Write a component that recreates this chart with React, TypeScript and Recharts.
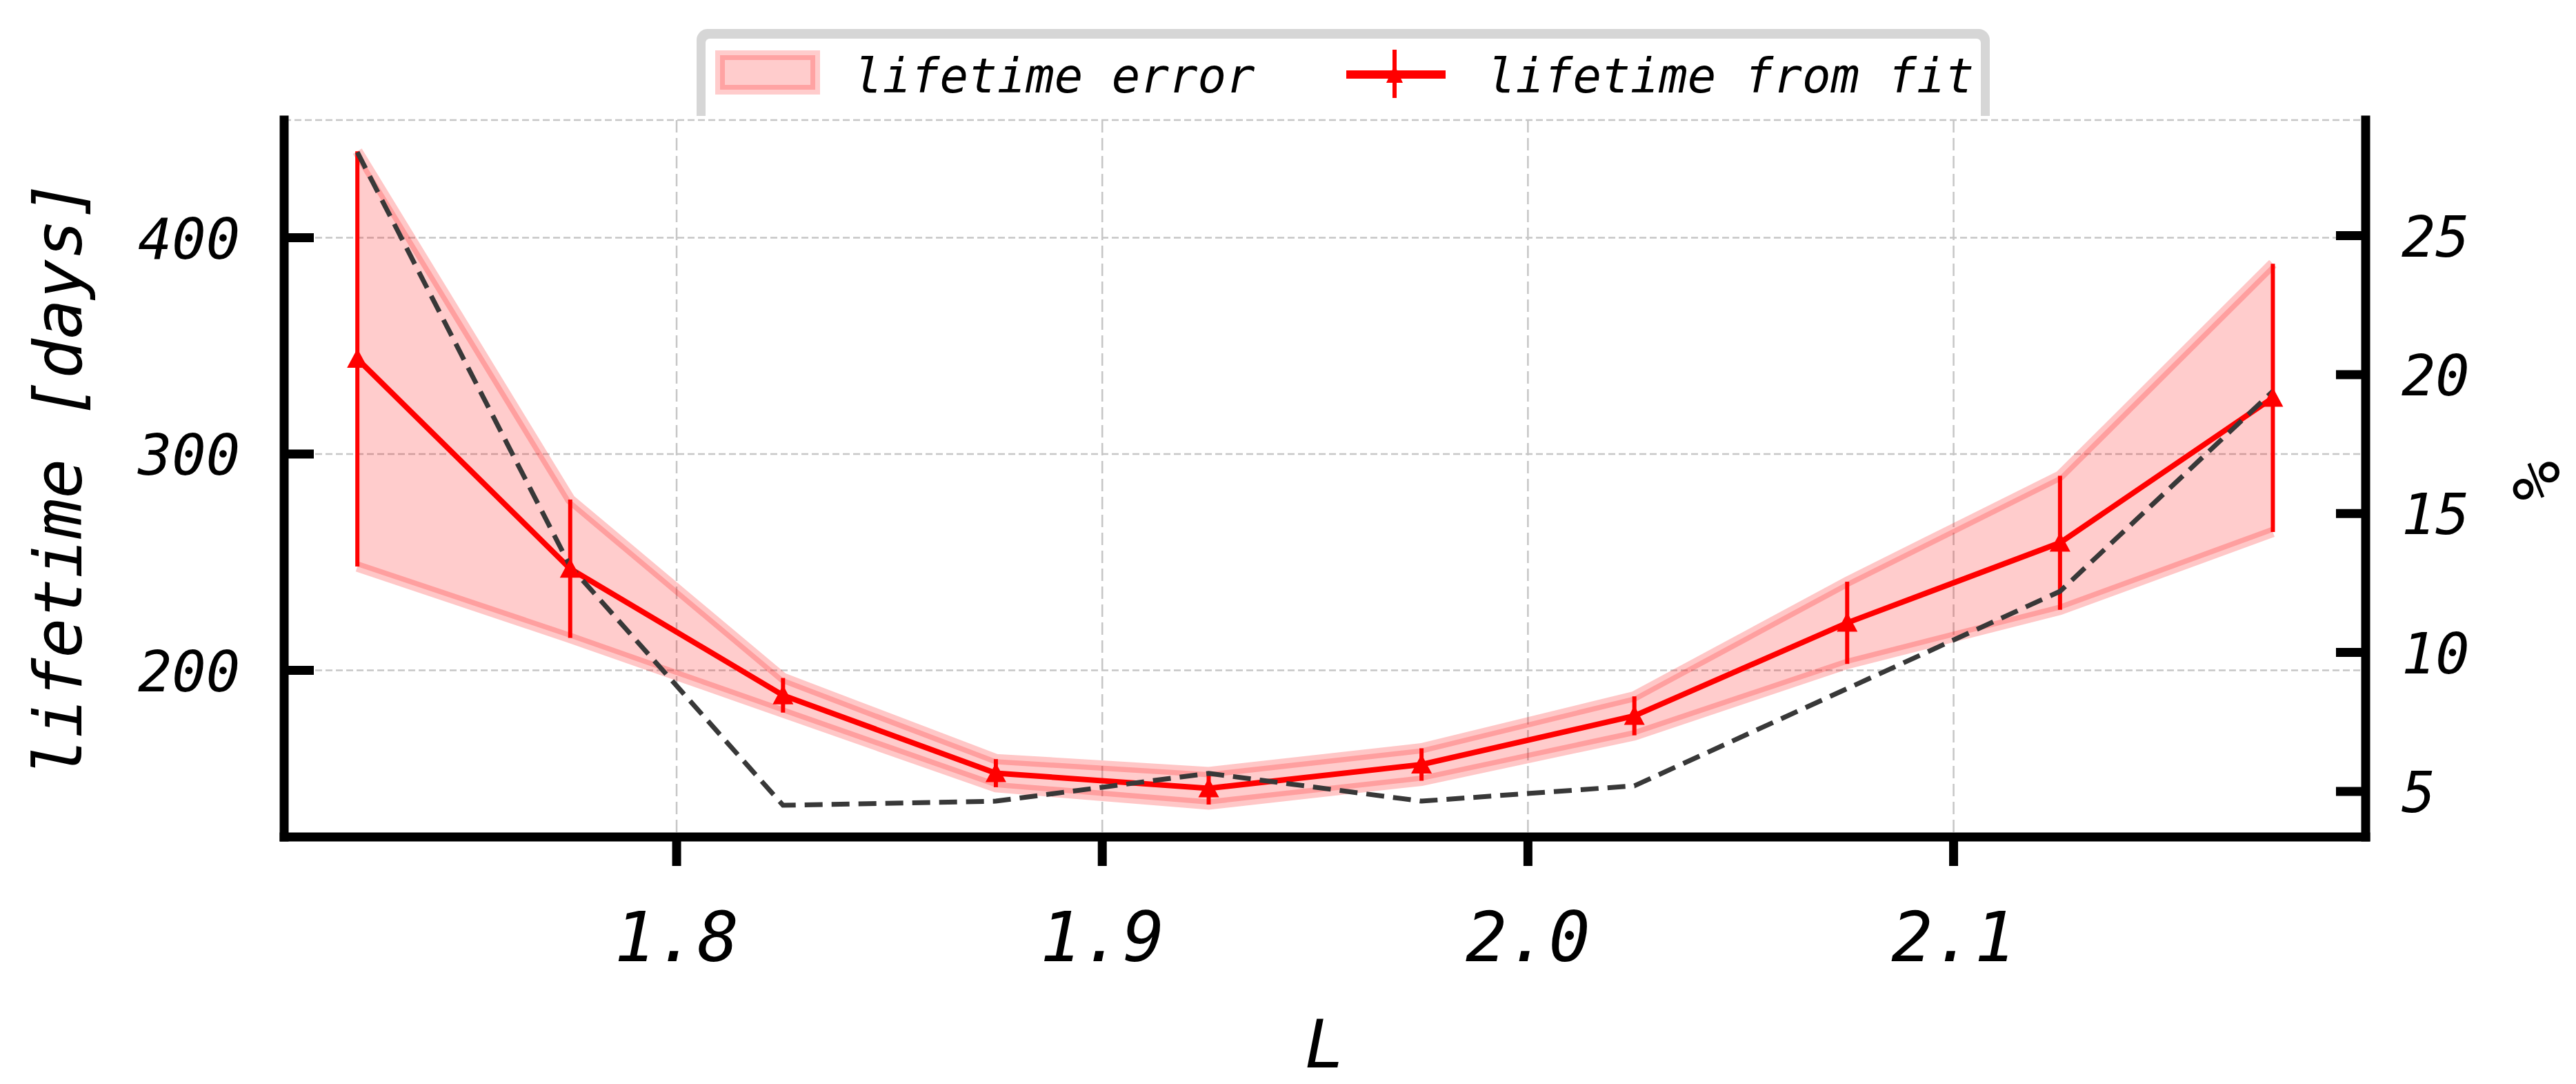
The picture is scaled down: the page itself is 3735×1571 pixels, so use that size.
import React from 'react';
import { ComposedChart, Area, Line, XAxis, YAxis, CartesianGrid, ErrorBar, Legend } from 'recharts';

// ---- data ----
const L_VALUES = [1.725, 1.775, 1.825, 1.875, 1.925, 1.975, 2.025, 2.075, 2.125, 2.175];
const LIFETIME = [344, 247, 188.5, 152.5, 145.5, 156.5, 179, 222, 259, 326];
const LIFETIME_ERR = [96, 32, 8, 6.5, 7.5, 7.5, 9, 19, 31, 62];
const REL_ERR_PCT = [28.0, 13.1, 4.5, 4.65, 5.65, 4.65, 5.2, 8.7, 12.2, 19.4];

const X_TICKS = [1.8, 1.9, 2.0, 2.1];
const LEFT_TICKS = [200, 300, 400];
const RIGHT_TICKS = [5, 10, 15, 20, 25];

const X_DOMAIN: [number, number] = [1.7078, 2.1968];
const LEFT_DOMAIN: [number, number] = [123, 454.4];
const RIGHT_DOMAIN: [number, number] = [3.36, 29.16];

const SERIES_BAND = 'lifetime error';
const SERIES_FIT = 'lifetime from fit';
const X_LABEL = 'L';
const Y_LABEL = 'lifetime [days]';
const Y2_LABEL = '%';

const data = L_VALUES.map((L, i) => ({
  L,
  life: LIFETIME[i],
  err: LIFETIME_ERR[i],
  band: [LIFETIME[i] - LIFETIME_ERR[i], LIFETIME[i] + LIFETIME_ERR[i]],
  pct: REL_ERR_PCT[i],
}));

const FONT = '"DejaVu Sans Mono", monospace';

const LeftTick = (p: any) => {
  const { x, y, payload } = p;
  return (
    <g>
      <line x1={x} x2={x + 43} y1={y} y2={y} stroke="#000" strokeWidth={13} />
      <text x={x - 64} y={y + 30} textAnchor="end" fontFamily={FONT} fontStyle="italic" fontSize={82} fill="#000">
        {payload.value}
      </text>
    </g>
  );
};

const RightTick = (p: any) => {
  const { x, y, payload } = p;
  return (
    <g>
      <line x1={x} x2={x - 43} y1={y} y2={y} stroke="#000" strokeWidth={13} />
      <text x={x + 52} y={y + 30} textAnchor="start" fontFamily={FONT} fontStyle="italic" fontSize={82} fill="#000">
        {payload.value}
      </text>
    </g>
  );
};

const BottomTick = (p: any) => {
  const { x, y, payload } = p;
  return (
    <text x={x} y={y + 138} textAnchor="middle" fontFamily={FONT} fontStyle="italic" fontSize={100} fill="#000">
      {Number(payload.value).toFixed(1)}
    </text>
  );
};

const XLabelContent = (p: any) => {
  const vb = p.viewBox || { x: 412, y: 1213, width: 3018, height: 300 };
  const cx = vb.x + vb.width / 2;
  return (
    <text x={cx} y={vb.y + 334} textAnchor="middle" fontFamily={FONT} fontStyle="italic" fontSize={97} fill="#000">
      {X_LABEL}
    </text>
  );
};

const YLabelContent = (p: any) => {
  const vb = p.viewBox || { x: 12, y: 174, width: 400, height: 1039 };
  const tx = vb.x + 106;
  const ty = vb.y + vb.height / 2;
  return (
    <text x={tx} y={ty} transform={`rotate(-90, ${tx}, ${ty})`} textAnchor="middle" fontFamily={FONT} fontStyle="italic" fontSize={96} fill="#000">
      {Y_LABEL}
    </text>
  );
};

const Y2LabelContent = (p: any) => {
  const vb = p.viewBox || { x: 3430, y: 174, width: 300, height: 1039 };
  const tx = vb.x + 281;
  const ty = vb.y + vb.height / 2 + 3;
  return (
    <text x={tx} y={ty} transform={`rotate(-90, ${tx}, ${ty})`} textAnchor="middle" fontFamily={FONT} fontStyle="italic" fontSize={96} fill="#000">
      {Y2_LABEL}
    </text>
  );
};

const renderTriangle = (p: any) => {
  const { cx, cy, index } = p;
  if (cx == null || cy == null) return <g key={`tri-${index}`} />;
  const s = 15;
  return <path key={`tri-${index}`} d={`M${cx},${cy - s} L${cx + s},${cy + s - 2} L${cx - s},${cy + s - 2} Z`} fill="#ff0000" />;
};

const LegendBox = () => (
  <div style={{ position: 'absolute', left: 1010, top: 42, width: 1875, height: 126, background: '#d6d6d6', borderRadius: '16px 16px 0 0' }}>
    <div style={{ position: 'absolute', left: 13, top: 14, right: 13, bottom: 0, background: '#ffffff', borderRadius: '6px 6px 0 0' }} />
    <svg style={{ position: 'absolute', left: 0, top: 0, overflow: 'visible' }} width={1875} height={126}>
      <rect x={34} y={38} width={138} height={50} fill="#ff0000" fillOpacity={0.2} stroke="#ff0000" strokeOpacity={0.2} strokeWidth={14} />
      <text x={228} y={92} fontFamily={FONT} fontStyle="italic" fontSize={69} fill="#000">{SERIES_BAND}</text>
      <line x1={942} x2={1086} y1={66} y2={66} stroke="#ff0000" strokeWidth={12} />
      <line x1={1012} x2={1012} y1={30} y2={100} stroke="#ff0000" strokeWidth={6} />
      <path d="M1012,52 L1024,78 L1000,78 Z" fill="#ff0000" />
      <text x={1146} y={92} fontFamily={FONT} fontStyle="italic" fontSize={69} fill="#000">{SERIES_FIT}</text>
    </svg>
  </div>
);

const axisLineStyle = { stroke: '#000', strokeWidth: 13, strokeLinecap: 'square' as const };

export default function App() {
  return (
    <div style={{ position: 'absolute', left: 0, top: 0, width: 3735, height: 1571, background: '#ffffff' }}>
      <ComposedChart width={3735} height={1571} data={data} margin={{ top: 174, right: 5, bottom: 58, left: 12 }}>
        <CartesianGrid xAxisId="x" yAxisId="left" vertical={false} stroke="#c6c6c6" strokeWidth={2.5} strokeDasharray="10 5" />
        <CartesianGrid xAxisId="x" yAxisId="left" horizontal={false} stroke="#c6c6c6" strokeWidth={2.5} strokeDasharray="18 8" />
        <XAxis
          xAxisId="x"
          dataKey="L"
          type="number"
          domain={X_DOMAIN}
          allowDataOverflow
          ticks={X_TICKS}
          interval={0}
          height={300}
          tickSize={42}
          tickMargin={0}
          tickLine={{ stroke: '#000', strokeWidth: 13 }}
          axisLine={axisLineStyle}
          tick={<BottomTick />}
          label={XLabelContent}
        />
        <XAxis
          xAxisId="top"
          orientation="top"
          dataKey="L"
          type="number"
          domain={X_DOMAIN}
          allowDataOverflow
          height={0}
          tick={false}
          tickLine={false}
          axisLine={axisLineStyle}
        />
        <YAxis
          yAxisId="left"
          type="number"
          domain={LEFT_DOMAIN}
          allowDataOverflow
          ticks={LEFT_TICKS}
          interval={0}
          width={400}
          tickSize={0}
          tickMargin={0}
          tickLine={false}
          axisLine={axisLineStyle}
          tick={<LeftTick />}
          label={YLabelContent}
        />
        <YAxis
          yAxisId="right"
          orientation="right"
          type="number"
          domain={RIGHT_DOMAIN}
          allowDataOverflow
          ticks={RIGHT_TICKS}
          interval={0}
          width={300}
          tickSize={0}
          tickMargin={0}
          tickLine={false}
          axisLine={axisLineStyle}
          tick={<RightTick />}
          label={Y2LabelContent}
        />
        <Area
          xAxisId="x"
          yAxisId="left"
          type="linear"
          dataKey="band"
          name={SERIES_BAND}
          fill="#ff0000"
          fillOpacity={0.2}
          stroke="#ff0000"
          strokeOpacity={0.22}
          strokeWidth={15}
          dot={false}
          activeDot={false}
          isAnimationActive={false}
        />
        <Line
          xAxisId="x"
          yAxisId="left"
          type="linear"
          dataKey="life"
          name={SERIES_FIT}
          stroke="#ff0000"
          strokeWidth={8}
          dot={renderTriangle}
          activeDot={false}
          isAnimationActive={false}
        >
          <ErrorBar dataKey="err" direction="y" width={0} stroke="#ff0000" strokeWidth={6} isAnimationActive={false} />
        </Line>
        <Line
          xAxisId="x"
          yAxisId="right"
          type="linear"
          dataKey="pct"
          stroke="#383838"
          strokeWidth={7}
          strokeDasharray="26 13"
          dot={false}
          activeDot={false}
          legendType="none"
          isAnimationActive={false}
        />
        <Legend
          layout="horizontal"
          verticalAlign="middle"
          align="center"
          wrapperStyle={{ position: 'absolute', left: 0, top: 0, width: 3735, height: 0, margin: 0 }}
          content={LegendBox}
        />
      </ComposedChart>
    </div>
  );
}
